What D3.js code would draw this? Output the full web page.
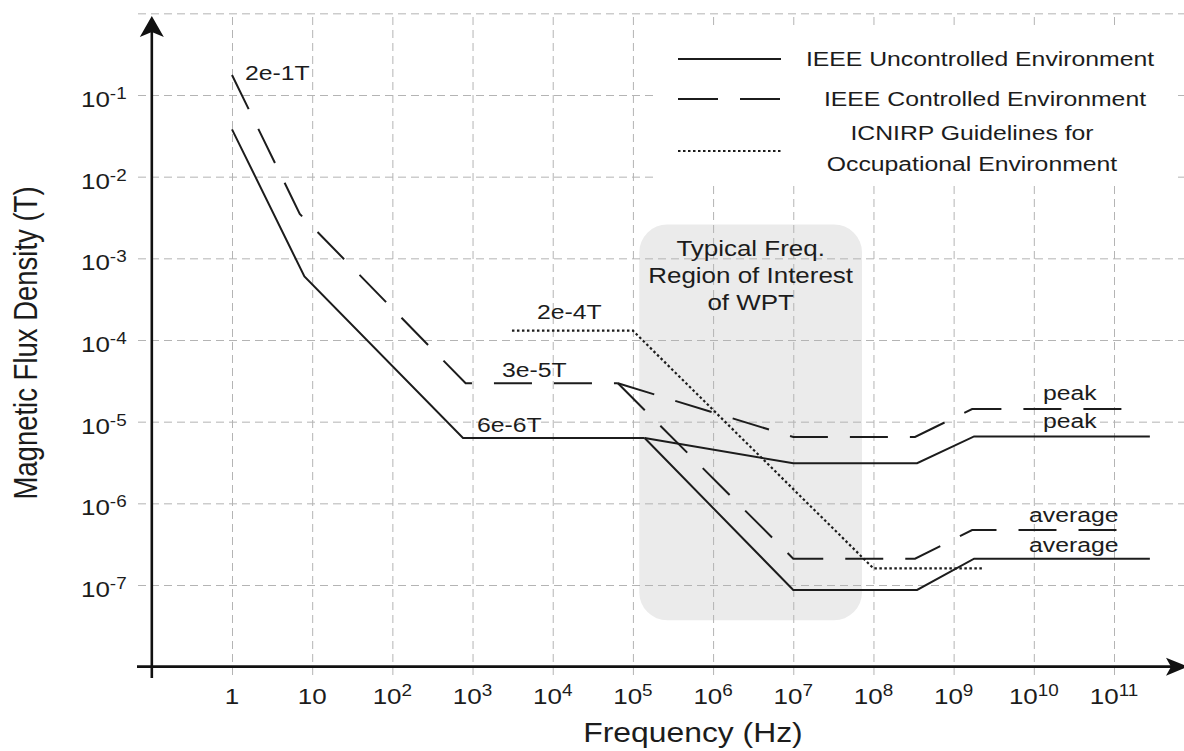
<!DOCTYPE html>
<html><head><meta charset="utf-8">
<script src="https://cdn.jsdelivr.net/npm/d3@7"></script>
<style>
html,body{margin:0;padding:0;background:#fff;}
svg{display:block;font-family:"Liberation Sans",Arial,Helvetica,sans-serif;}
</style></head><body>
<svg id="chart" width="1184" height="751"></svg>
<script>
// ---------- data ----------
const xTickValues = [1, 1e1, 1e2, 1e3, 1e4, 1e5, 1e6, 1e7, 1e8, 1e9, 1e10, 1e11];
const xTickBase = ["1", "10", "10", "10", "10", "10", "10", "10", "10", "10", "10", "10"];
const xTickExp = ["", "", "2", "3", "4", "5", "6", "7", "8", "9", "10", "11"];
const yTickValues = [1e-1, 1e-2, 1e-3, 1e-4, 1e-5, 1e-6, 1e-7];
const yTickBase = ["10", "10", "10", "10", "10", "10", "10"];
const yTickExp = ["-1", "-2", "-3", "-4", "-5", "-6", "-7"];
const yGridValues = [1, 1e-1, 1e-2, 1e-3, 1e-4, 1e-5, 1e-6, 1e-7];

// IEEE Uncontrolled Environment (solid)
const uncontrolledLowF = [1, 8, 760, 1.4e5];
const uncontrolledLowB = [3.8e-2, 6e-4, 6.3e-6, 6.3e-6];
const uncontrolledPeakF = [1.4e5, 1e7, 3.5e8, 1.8e9, 2.8e11];
const uncontrolledPeakB = [6.3e-6, 3.1e-6, 3.1e-6, 6.6e-6, 6.6e-6];
const uncontrolledAvgF = [1.4e5, 1e7, 3.5e8, 1.8e9, 2.8e11];
const uncontrolledAvgB = [6.3e-6, 8.7e-8, 8.7e-8, 2.1e-7, 2.1e-7];
// IEEE Controlled Environment (dashed)
const controlledLowF = [1, 7, 820, 6.5e4];
const controlledLowB = [1.76e-1, 3.5e-3, 2.95e-5, 2.95e-5];
const controlledPeakF = [6.5e4, 1e7, 3.3e8, 1.7e9, 2e11];
const controlledPeakB = [2.95e-5, 6.5e-6, 6.5e-6, 1.43e-5, 1.43e-5];
const controlledAvgF = [6.5e4, 1e7, 3.3e8, 1.7e9, 2e11];
const controlledAvgB = [2.95e-5, 2.1e-7, 2.1e-7, 4.7e-7, 4.7e-7];
// ICNIRP occupational (dotted)
const icnirpF = [3.1e3, 1e5, 1e8, 2.3e9];
const icnirpB = [1.3e-4, 1.3e-4, 1.6e-7, 1.6e-7];
// WPT region of interest (shaded)
const wptBandF = [1.2e5, 7.2e7];
const wptBandB = [2.6e-3, 3.7e-8];

const legendLabels = [["IEEE Uncontrolled Environment"], ["IEEE Controlled Environment"], ["ICNIRP Guidelines for", "Occupational Environment"]];
const wptLabel = ["Typical Freq.", "Region of Interest", "of WPT"];
const xTitle = "Frequency (Hz)";
const yTitle = "Magnetic Flux Density (T)";

// ---------- drawing ----------
const svg = d3.select("#chart");
const SX = 1.18;
const INK = "#1c1c1c";

const x = d3.scaleLog().domain([1, 1e11]).range([232, 1114]);
const y = d3.scaleLog().domain([1e-1, 1e-7]).range([95, 585]);
const line = d3.line().x(d => x(d[0])).y(d => y(d[1]));

function addText(g, px, py, str, size, anchor, sup, supSize, supDy) {
  const t = g.append("text")
    .attr("transform", `translate(${px},${py}) scale(${SX},1)`)
    .attr("text-anchor", anchor || "start")
    .attr("font-size", size)
    .attr("fill", INK);
  t.append("tspan").text(str);
  if (sup) t.append("tspan").attr("font-size", supSize).attr("dy", supDy).text(sup);
  return t;
}

// shaded WPT region
svg.append("rect")
  .attr("x", x(wptBandF[0])).attr("y", y(wptBandB[0]))
  .attr("width", x(wptBandF[1]) - x(wptBandF[0]))
  .attr("height", y(wptBandB[1]) - y(wptBandB[0]))
  .attr("rx", 28).attr("ry", 28)
  .attr("fill", "#ebebeb");

// grid
const gx = svg.append("g").attr("transform", "translate(0,675)")
  .call(d3.axisBottom(x).tickValues(xTickValues).tickSize(-660).tickSizeOuter(0).tickFormat(""));
gx.select(".domain").remove();
gx.selectAll("line").attr("stroke", "#b4b4b4").attr("stroke-width", 1).attr("stroke-dasharray", "8,5");

const gy = svg.append("g").attr("transform", "translate(138,0)")
  .call(d3.axisRight(y).tickValues(yGridValues).tickSize(1050).tickSizeOuter(0).tickFormat(""));
gy.select(".domain").remove();
gy.selectAll("line").attr("stroke", "#b4b4b4").attr("stroke-width", 1).attr("stroke-dasharray", "8,5");

// legend background
svg.append("rect").attr("x", 653).attr("y", 28).attr("width", 525).attr("height", 157).attr("fill", "#fff");

// wpt label
const gw = svg.append("g");
wptLabel.forEach((s, i) => addText(gw, (x(wptBandF[0]) + x(wptBandF[1])) / 2, 256 + i * 27, s, 22, "middle"));

// axes
const x0 = x(0.1), yBase = y(1e-8);
svg.append("line").attr("x1", x0).attr("x2", x0).attr("y1", 678).attr("y2", 30)
  .attr("stroke", "#111").attr("stroke-width", 2.6);
svg.append("path").attr("d", `M${x0},16 L${x0 + 12},37 L${x0},32 L${x0 - 12},37 Z`).attr("fill", "#111");
svg.append("line").attr("x1", 137).attr("x2", 1172).attr("y1", yBase).attr("y2", yBase)
  .attr("stroke", "#111").attr("stroke-width", 2.6);
svg.append("path").attr("d", `M1188,${yBase} L1166,${yBase - 9} L1171,${yBase} L1166,${yBase + 9} Z`).attr("fill", "#111");

// tick labels
const gtx = svg.append("g");
xTickValues.forEach((v, i) => addText(gtx, x(v), 704, xTickBase[i], 22, "middle", xTickExp[i], 16, -8));
const gty = svg.append("g");
yTickValues.forEach((v, i) => addText(gty, 81, y(v) + 12, yTickBase[i], 22, "start", yTickExp[i], 16, -8));

// axis titles
addText(svg, 693, 742, xTitle, 27, "middle");
svg.append("text")
  .attr("transform", `translate(37,343) scale(${SX},1) rotate(-90)`)
  .attr("text-anchor", "middle").attr("font-size", 27.5).attr("fill", INK).text(yTitle);

// series
const series = [
  [uncontrolledLowF, uncontrolledLowB, null],
  [uncontrolledPeakF, uncontrolledPeakB, null],
  [uncontrolledAvgF, uncontrolledAvgB, null],
  [controlledLowF, controlledLowB, "38,22"],
  [controlledPeakF, controlledPeakB, "38,22"],
  [controlledAvgF, controlledAvgB, "38,22"],
  [icnirpF, icnirpB, "2.5,2.5"]
];
series.forEach(([F, B, dash]) => {
  const p = svg.append("path").attr("d", line(d3.zip(F, B)))
    .attr("fill", "none").attr("stroke", INK)
    .attr("stroke-width", dash === "2.5,2.5" ? 2.2 : 2);
  if (dash) p.attr("stroke-dasharray", dash);
});

// annotations
const ga = svg.append("g");
addText(ga, 245, 80, "2e-1T", 21);
addText(ga, 537, 319, "2e-4T", 21);
addText(ga, 502, 377, "3e-5T", 21);
addText(ga, 477, 432, "6e-6T", 21);
addText(ga, 1043, 400, "peak", 21);
addText(ga, 1043, 428, "peak", 21);
addText(ga, 1029, 522, "average", 21);
addText(ga, 1029, 552, "average", 21);

// legend
const gl = svg.append("g");
const legDash = [null, "40,22", "2.5,2.5"];
const legY = [59, 99, 151];
const legTextY = [[66], [106], [140, 171]];
const legCx = [980, 985, 972];
legendLabels.forEach((lines, i) => {
  const l = gl.append("line").attr("x1", 678).attr("x2", 781).attr("y1", legY[i]).attr("y2", legY[i])
    .attr("stroke", INK).attr("stroke-width", i === 2 ? 2.2 : 2);
  if (legDash[i]) l.attr("stroke-dasharray", legDash[i]);
  lines.forEach((s, j) => addText(gl, legCx[i], legTextY[i][j], s, 21, "middle"));
});
</script>
</body></html>
